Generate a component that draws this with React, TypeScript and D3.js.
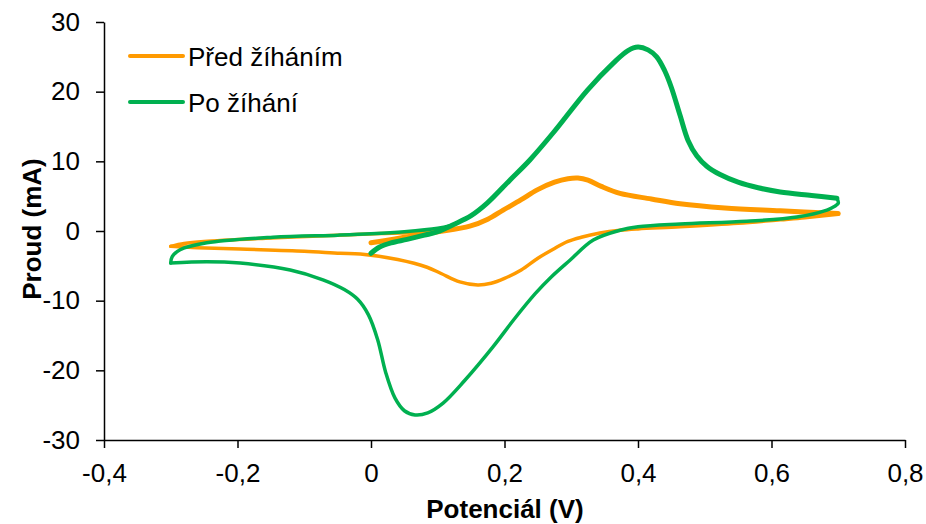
import React, { useEffect, useRef } from 'react';
import * as d3 from 'd3';

// potential (V), current (mA)
const orangeForward: [number, number][] = [
  [0, -1.7], [0.02, -1.4], [0.05, -0.9], [0.073, -0.5], [0.1, -0.1], [0.148, 0.7],
  [0.175, 1.7], [0.198, 3.0], [0.225, 4.5], [0.249, 5.9], [0.275, 7.0], [0.295, 7.5],
  [0.31, 7.6], [0.325, 7.3], [0.345, 6.4], [0.373, 5.4], [0.42, 4.6], [0.463, 3.9],
  [0.53, 3.3], [0.613, 2.9], [0.7, 2.5],
];
const orangeReverse: [number, number][] = [
  [0.7, 2.4], [0.65, 1.9], [0.613, 1.6], [0.55, 1.1], [0.463, 0.6], [0.4, 0.3],
  [0.373, 0.1], [0.343, -0.3], [0.315, -0.9], [0.295, -1.5], [0.275, -2.5], [0.25, -3.9],
  [0.225, -5.6], [0.2, -6.8], [0.18, -7.5], [0.16, -7.75], [0.133, -7.3], [0.105, -6.1],
  [0.084, -5.2], [0.04, -4.1], [-0.016, -3.3], [-0.046, -3.2], [-0.1, -2.9],
  [-0.196, -2.6], [-0.26, -2.4], [-0.3, -2.2],
];
const orangeReturn: [number, number][] = [
  [-0.3, -2.2], [-0.28, -1.8], [-0.25, -1.5], [-0.15, -1.0], [-0.05, -0.6],
  [0.02, -0.35], [0.08, -0.2],
];
const greenForward: [number, number][] = [
  [0, -3.2], [0.013, -2.3], [0.03, -1.7], [0.054, -1.2], [0.08, -0.6], [0.1, -0.1],
  [0.123, 0.9], [0.15, 2.2], [0.174, 4.0], [0.208, 7.3], [0.238, 10.2], [0.273, 14.1],
  [0.324, 20.2], [0.363, 24.1], [0.385, 25.9], [0.4, 26.4], [0.415, 26.0], [0.428, 25.0],
  [0.44, 23.0], [0.45, 20.6], [0.463, 16.6], [0.475, 13.0], [0.488, 10.8], [0.503, 9.3],
  [0.523, 8.1], [0.55, 7.0], [0.58, 6.2], [0.613, 5.6], [0.66, 5.1], [0.698, 4.7],
];
const greenReverse: [number, number][] = [
  [0.698, 4.7], [0.7, 4.0], [0.69, 3.3], [0.683, 3.0], [0.638, 2.0], [0.563, 1.4],
  [0.463, 1.0], [0.4, 0.6], [0.373, 0.1], [0.333, -1.3], [0.298, -4.2], [0.27, -6.6],
  [0.246, -9.0], [0.215, -12.6], [0.183, -16.6], [0.14, -21.5], [0.108, -24.7],
  [0.085, -26.1], [0.066, -26.4], [0.05, -25.8], [0.036, -24.0], [0.022, -20.3],
  [0.01, -15.6], [-0.004, -12.0], [-0.02, -9.8], [-0.04, -8.4], [-0.072, -7.0],
  [-0.121, -5.6], [-0.196, -4.6], [-0.246, -4.4], [-0.3, -4.6],
];
const greenReturn: [number, number][] = [
  [-0.3, -4.6], [-0.298, -3.7], [-0.286, -2.7], [-0.246, -1.7], [-0.147, -0.9],
  [-0.05, -0.6], [0, -0.4], [0.05, -0.1], [0.1, 0.4], [0.12, 0.8],
];

const seriesNames = ['Před žíháním', 'Po žíhání'];
const seriesColors = ['#FF9A00', '#00B050'];
const xTicks = [-0.4, -0.2, 0, 0.2, 0.4, 0.6, 0.8];
const yTicks = [-30, -20, -10, 0, 10, 20, 30];

const FONT = "Arial, 'Liberation Sans', sans-serif";

export default function App() {
  const ref = useRef<SVGSVGElement>(null);

  useEffect(() => {
    const svg = d3.select(ref.current);
    svg.selectAll('*').remove();

    const x = d3.scaleLinear().domain([-0.4, 0.8]).range([104, 905]);
    const y = d3.scaleLinear().domain([-30, 30]).range([440, 22]);

    const fmt = (d: number) => String(d).replace('.', ',');

    // axes
    const xAxis = svg.append('g')
      .attr('transform', 'translate(0,440)')
      .call(d3.axisBottom(x).tickValues(xTicks).tickFormat(fmt as any)
        .tickSize(8).tickSizeOuter(0).tickPadding(16));
    const yAxis = svg.append('g')
      .attr('transform', 'translate(104,0)')
      .call(d3.axisLeft(y).tickValues(yTicks).tickFormat(fmt as any)
        .tickSize(8).tickSizeOuter(0).tickPadding(16));

    [xAxis, yAxis].forEach((a) => {
      a.selectAll('path, line').attr('stroke', '#000').attr('stroke-width', 1.5);
      a.selectAll('text').attr('font-family', FONT).attr('font-size', 26).attr('fill', '#000');
    });

    const line = d3.line<[number, number]>()
      .x((d) => x(d[0]))
      .y((d) => y(d[1]))
      .curve(d3.curveCatmullRom.alpha(0.5));

    const branches = [
      { data: orangeReturn, color: seriesColors[0], w: 3.5 },
      { data: orangeReverse, color: seriesColors[0], w: 3.5 },
      { data: orangeForward, color: seriesColors[0], w: 5 },
      { data: greenReturn, color: seriesColors[1], w: 3.5 },
      { data: greenReverse, color: seriesColors[1], w: 3.5 },
      { data: greenForward, color: seriesColors[1], w: 5 },
    ];

    svg.append('g').selectAll('path')
      .data(branches)
      .enter()
      .append('path')
      .attr('d', (d) => line(d.data))
      .attr('fill', 'none')
      .attr('stroke', (d) => d.color)
      .attr('stroke-width', (d) => d.w)
      .attr('stroke-linecap', 'round')
      .attr('stroke-linejoin', 'round');

    // legend
    const legend = svg.append('g').selectAll('g')
      .data(seriesNames)
      .enter()
      .append('g')
      .attr('transform', (d, i) => 'translate(130,' + (56 + i * 46) + ')');
    legend.append('line')
      .attr('x1', 0).attr('x2', 53)
      .attr('stroke', (d, i) => seriesColors[i])
      .attr('stroke-width', 4)
      .attr('stroke-linecap', 'round');
    legend.append('text')
      .attr('x', 58)
      .attr('y', 9.5)
      .attr('font-family', FONT)
      .attr('font-size', 26)
      .text((d) => d);

    // axis titles
    svg.append('text')
      .attr('x', 505)
      .attr('y', 518)
      .attr('text-anchor', 'middle')
      .attr('font-family', FONT)
      .attr('font-size', 26)
      .attr('font-weight', 'bold')
      .text('Potenciál (V)');
    svg.append('text')
      .attr('transform', 'translate(41,229) rotate(-90)')
      .attr('text-anchor', 'middle')
      .attr('font-family', FONT)
      .attr('font-size', 26)
      .attr('font-weight', 'bold')
      .text('Proud (mA)');
  }, []);

  return (
    <svg ref={ref} width={926} height={524}
      style={{ position: 'absolute', left: 0, top: 0, background: '#fff' }} />
  );
}
